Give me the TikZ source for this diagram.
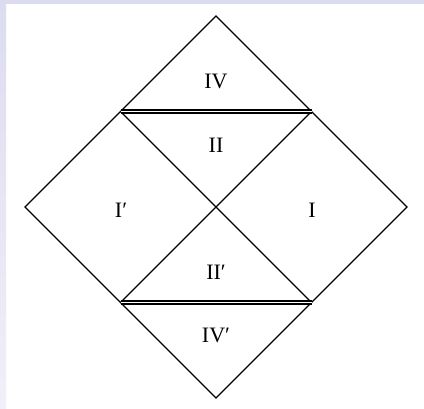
\documentclass[tikz,border=0pt]{standalone}
\usepackage{fontspec}
\setmainfont{Liberation Serif}
\definecolor{bandc}{HTML}{DCDCF0}
\definecolor{bandl}{HTML}{F0F0F8}
\begin{document}
\begin{tikzpicture}[x=1pt,y=-1pt,
  edge/.style={line width=1.1pt,black},
  horizon/.style={double=white,double distance=1.4pt,line width=1.6pt,black},
  lab/.style={font=\fontsize{22}{26}\selectfont,inner sep=0pt}]
\useasboundingbox (0,0) rectangle (424,409);
\fill[white] (0,0) rectangle (424,409);
\fill[bandc] (0,0) rectangle (424,4);
\shade[top color=bandc,bottom color=bandl] (0,0) rectangle (6,409);
\coordinate (T) at (216,16);
\coordinate (R) at (407,207);
\coordinate (B) at (216,398);
\coordinate (L) at (25,207);
\coordinate (A) at (120.5,111.5);
\coordinate (Bp) at (311.5,111.5);
\coordinate (C) at (120.5,302.5);
\coordinate (D) at (311.5,302.5);
\draw[edge] (T) -- (R) -- (B) -- (L) -- cycle;
\draw[edge] (A) -- (D);
\draw[edge] (Bp) -- (C);
\draw[horizon] (A) -- (Bp);
\draw[horizon] (C) -- (D);
\node[lab] (n4) at (216,81) {IV};
\node[lab] (n2) at (216,145) {II};
\node[lab] (n1p) at (121,210) {I′};
\node[lab] (n1) at (312,210) {I};
\node[lab] (n2p) at (216,272) {II′};
\node[lab] (n4p) at (216,335) {IV′};
\end{tikzpicture}
\end{document}
